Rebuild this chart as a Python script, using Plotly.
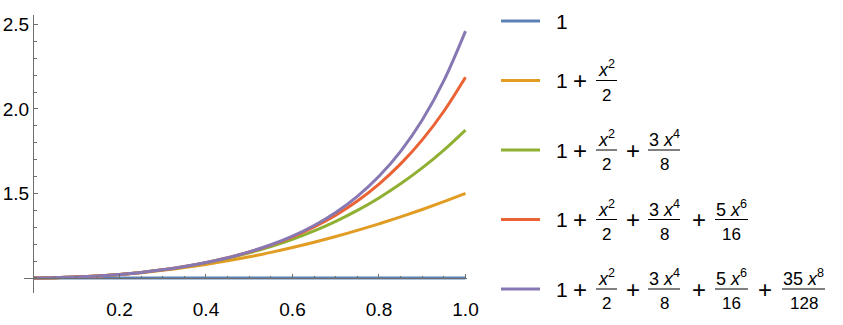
import plotly.graph_objects as go

# ---------------- data ----------------
x_vals = [0.0, 0.05, 0.1, 0.15, 0.2, 0.25, 0.3, 0.35, 0.4, 0.45, 0.5,
          0.55, 0.6, 0.65, 0.7, 0.75, 0.8, 0.85, 0.9, 0.95, 1.0]

y_order0 = [1.0, 1.0, 1.0, 1.0, 1.0, 1.0, 1.0, 1.0, 1.0, 1.0, 1.0,
            1.0, 1.0, 1.0, 1.0, 1.0, 1.0, 1.0, 1.0, 1.0, 1.0]
y_order2 = [1.0, 1.00125, 1.005, 1.01125, 1.02, 1.03125, 1.045, 1.06125, 1.08, 1.10125, 1.125,
            1.15125, 1.18, 1.21125, 1.245, 1.28125, 1.32, 1.36125, 1.405, 1.45125, 1.5]
y_order4 = [1.0, 1.00125, 1.00504, 1.01144, 1.0206, 1.03272, 1.04804, 1.06688, 1.0896, 1.11663, 1.14844,
            1.18557, 1.2286, 1.27819, 1.33504, 1.3999, 1.4736, 1.557, 1.65104, 1.75669, 1.875]
y_order6 = [1.0, 1.00125, 1.00504, 1.01145, 1.02062, 1.0328, 1.04827, 1.06745, 1.09088, 1.11922, 1.15332,
            1.19422, 1.24318, 1.30176, 1.3718, 1.45552, 1.55552, 1.67486, 1.81711, 1.98641, 2.1875]
y_order8 = [1.0, 1.00125, 1.00504, 1.01145, 1.02062, 1.0328, 1.04829, 1.06751, 1.09106, 1.11968, 1.15439,
            1.19651, 1.24777, 1.31047, 1.38756, 1.4829, 1.6014, 1.74937, 1.93482, 2.16781, 2.46094]

series_values = [y_order0, y_order2, y_order4, y_order6, y_order8]
series_colors = ["#5E81B5", "#E19C24", "#8FB032", "#EB6235", "#8778B3"]

x_tickvals = [0.2, 0.4, 0.6, 0.8, 1.0]
x_ticktext = ["0.2", "0.4", "0.6", "0.8", "1.0"]
y_tickvals = [1.5, 2.0, 2.5]
y_ticktext = ["1.5", "2.0", "2.5"]

# legend terms: numerator / denominator of each added fraction
legend_fracs = [("<i>x</i><sup>2</sup>", "2"),
                ("3 <i>x</i><sup>4</sup>", "8"),
                ("5 <i>x</i><sup>6</sup>", "16"),
                ("35 <i>x</i><sup>8</sup>", "128")]

# ---------------- layout helpers (pixels) ----------------
W, H = 843, 325
def px(xp):
    return xp / W
def py(yp):
    return 1 - yp / H

AX_COLOR = "rgb(110,110,110)"
TXT = "#000000"
FONT = "Liberation Sans, Arial, sans-serif"

fig = go.Figure()
for vals, col in zip(series_values, series_colors):
    fig.add_trace(go.Scatter(x=x_vals, y=vals, mode="lines",
                             line=dict(color=col, width=3, shape="spline"),
                             showlegend=False, hoverinfo="skip"))

fig.update_layout(
    width=W, height=H, margin=dict(l=0, r=0, t=0, b=0),
    template="none", paper_bgcolor="white", plot_bgcolor="white",
    font=dict(family=FONT, size=18, color=TXT),
    xaxis=dict(domain=[px(24), px(467)], range=[-0.0208, 1.0035],
               anchor="free", position=py(278),
               showgrid=False, zeroline=False, showline=True, linecolor=AX_COLOR, linewidth=1,
               tickvals=x_tickvals, ticktext=x_ticktext, ticks="inside", ticklen=4,
               tickcolor=AX_COLOR, tickwidth=1, automargin=False, ticklabelstandoff=14,
               minor=dict(tick0=0, dtick=0.05, ticks="inside", ticklen=2.5, tickcolor=AX_COLOR),
               tickfont=dict(family=FONT, size=19, color=TXT)),
    yaxis=dict(domain=[py(293), py(15)], range=[0.911, 2.556],
               anchor="free", position=px(33),
               showgrid=False, zeroline=False, showline=True, linecolor=AX_COLOR, linewidth=1,
               tickvals=y_tickvals, ticktext=y_ticktext, ticks="inside", ticklen=4,
               tickcolor=AX_COLOR, tickwidth=1, automargin=False,
               minor=dict(tick0=0, dtick=0.1, ticks="inside", ticklen=2.5, tickcolor=AX_COLOR),
               tickfont=dict(family=FONT, size=19, color=TXT)),
)

# ---------------- manual legend ----------------
row_y = [21, 80.5, 150, 219.5, 289]
one_x = 561.7
plus_x = [580, 632.5, 699, 765]
frac_cx = [606.5, 664, 731.5, 803.5]
frac_w = [21, 32, 33, 43]

shapes = []
annotations = []
for k, (yr, col) in enumerate(zip(row_y, series_colors)):
    shapes.append(dict(type="line", xref="paper", yref="paper",
                       x0=px(501), x1=px(540), y0=py(yr), y1=py(yr),
                       line=dict(color=col, width=3)))
    annotations.append(dict(text="1", x=px(one_x), y=py(yr), xref="paper", yref="paper",
                            xanchor="center", yanchor="middle", showarrow=False,
                            font=dict(family=FONT, size=21, color=TXT), borderpad=0))
    for j in range(k):
        num, den = legend_fracs[j]
        annotations.append(dict(text="+", x=px(plus_x[j]), y=py(yr), xref="paper", yref="paper",
                                xanchor="center", yanchor="middle", showarrow=False,
                                font=dict(family=FONT, size=24, color=TXT), borderpad=0))
        annotations.append(dict(text=num, x=px(frac_cx[j]), y=py(yr + 1), xref="paper", yref="paper",
                                xanchor="center", yanchor="bottom", showarrow=False,
                                font=dict(family=FONT, size=18, color=TXT), borderpad=0))
        annotations.append(dict(text=den, x=px(frac_cx[j]), y=py(yr + 4), xref="paper", yref="paper",
                                xanchor="center", yanchor="top", showarrow=False,
                                font=dict(family=FONT, size=17, color=TXT), borderpad=0))
        shapes.append(dict(type="line", xref="paper", yref="paper",
                           x0=px(frac_cx[j] - frac_w[j] / 2), x1=px(frac_cx[j] + frac_w[j] / 2),
                           y0=py(yr), y1=py(yr), line=dict(color=TXT, width=1)))

fig.update_layout(shapes=shapes, annotations=annotations)
fig.write_html("out.html")
